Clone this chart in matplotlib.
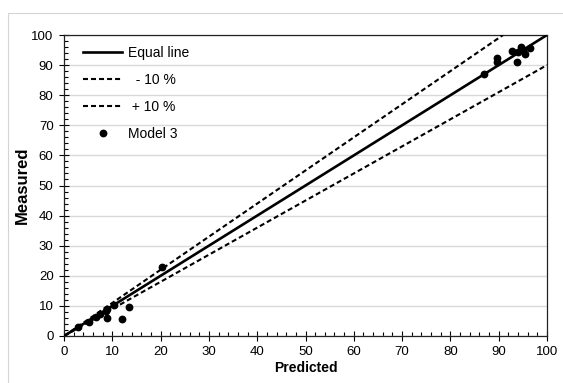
import matplotlib
matplotlib.use("Agg")
import matplotlib.pyplot as plt
import numpy as np
from matplotlib.ticker import MultipleLocator
from matplotlib.patches import Rectangle

# Data
line_x = [0, 100]
equal_y = [0, 100]
minus10_y = [0, 90]
plus10_x = [0, 100 / 1.1]
plus10_y = [0, 100]
pred = [3.0, 5.2, 6.6, 7.5, 8.6, 8.9, 10.3, 8.8, 12.1, 13.4, 20.2,
        87.0, 89.6, 89.7, 92.7, 93.7, 93.9, 94.6, 95.0, 95.4, 96.5]
meas = [3.0, 4.8, 6.4, 7.2, 8.3, 9.0, 10.3, 5.9, 5.6, 9.8, 23.0,
        86.9, 92.5, 91.1, 94.7, 90.9, 94.2, 96.1, 95.0, 93.6, 95.8]
xticks = list(range(0, 101, 10))
yticks = list(range(0, 101, 10))

plt.rcParams['font.family'] = ['Liberation Sans', 'DejaVu Sans']

fig = plt.figure(figsize=(5.63, 3.83), dpi=100)
ax = fig.add_axes([64 / 563, 1 - 336 / 383, (547 - 64) / 563, (336 - 35) / 383])

# light frame around figure
fig.patches.append(Rectangle((8 / 563, -0.2), 1.5, 1.2 - 13 / 383, transform=fig.transFigure,
                             fill=False, edgecolor='#d4d4d4', linewidth=0.8))

ax.plot(line_x, equal_y, color='black', lw=1.9, label='Equal line', zorder=3)
ax.plot(line_x, minus10_y, color='black', lw=1.5, linestyle=(0, (2.4, 1.45)), label='  - 10 %', zorder=3)
ax.plot(plus10_x, plus10_y, color='black', lw=1.5, linestyle=(0, (2.4, 1.45)), label=' + 10 %', zorder=3)
ax.plot(pred, meas, linestyle='none', marker='o', markersize=4.6, color='black', label='Model 3', zorder=4)

ax.set_xlim(0, 100)
ax.set_ylim(0, 100)
ax.set_xticks(xticks)
ax.set_yticks(yticks)
ax.xaxis.set_minor_locator(MultipleLocator(2))
ax.yaxis.set_minor_locator(MultipleLocator(2))
ax.tick_params(which='major', direction='inout', length=7, width=0.8, labelsize=9.5, pad=4)
ax.tick_params(which='minor', direction='in', length=3, width=0.8)
ax.grid(axis='y', which='major', color='#d9d9d9', linewidth=1.0, zorder=0)
ax.set_axisbelow(True)
for s in ax.spines.values():
    s.set_linewidth(0.9)
    s.set_color('#222222')

ax.set_xlabel('Predicted', fontsize=10, fontweight='bold', labelpad=2)
ax.set_ylabel('Measured', fontsize=12, fontweight='bold', labelpad=1)

leg = ax.legend(loc='upper left', bbox_to_anchor=(0.02, 0.997), frameon=False, fontsize=10,
                handlelength=2.8, handletextpad=0.42, labelspacing=0.95, borderpad=0.2)

fig.savefig('out.png', dpi=100)
